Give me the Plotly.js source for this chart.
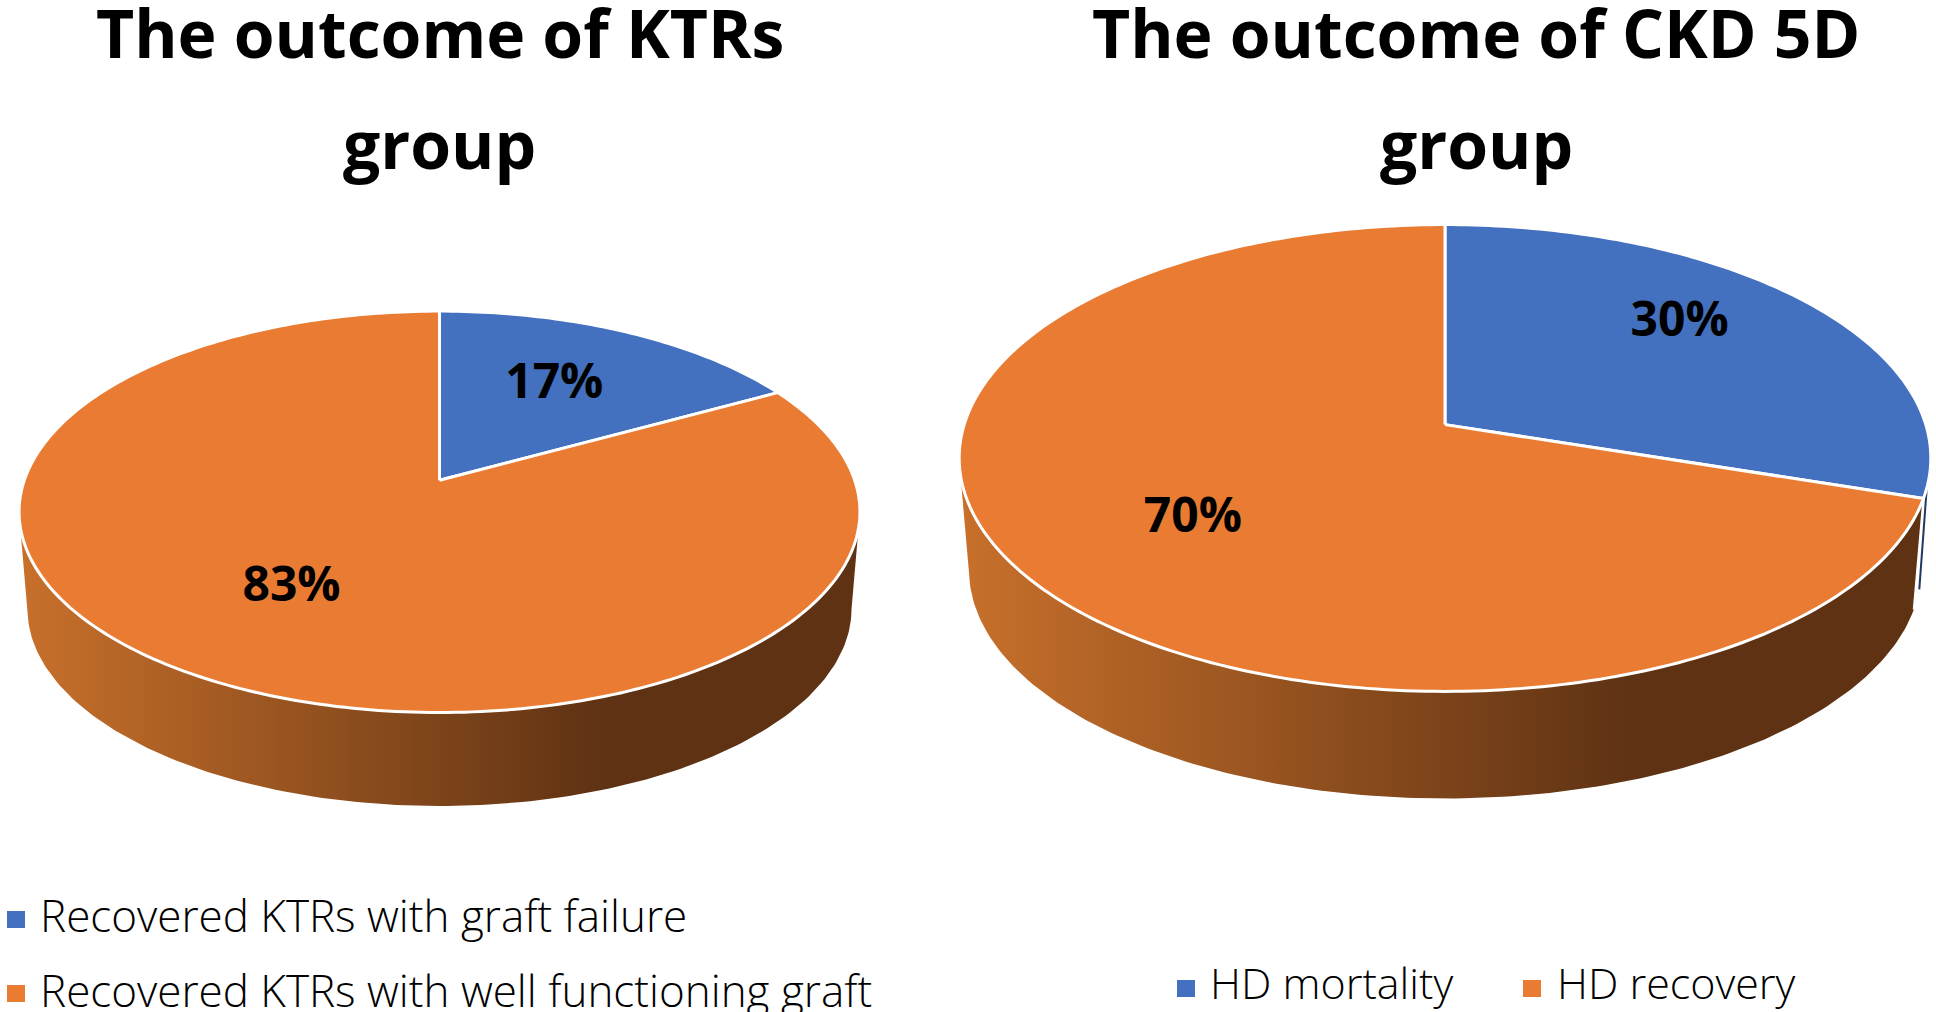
<!DOCTYPE html>
<html>
<head>
<meta charset="utf-8">
<script src="https://cdn.plot.ly/plotly-3.0.1.min.js"></script>
<style>html,body{margin:0;padding:0;background:#fff;overflow:hidden}</style>
</head>
<body>
<div id="chart" style="width:1936px;height:1012px"></div>
<script>
// ---- data ----
const ktrLabels = ["Recovered KTRs with graft failure", "Recovered KTRs with well functioning graft"];
const ktrValues = [17, 83];
const ckdLabels = ["HD mortality", "HD recovery"];
const ckdValues = [30, 70];
const ktrTitle = ["The outcome of KTRs", "group"];
const ckdTitle = ["The outcome of CKD 5D", "group"];

// ---- styles / layout ----
const W = 1936, H = 1012;
const FONT = '"Open Sans","Noto Sans",sans-serif';
const BLUE = "#4371BF", ORANGE = "#E97C32", DARKBLUE = "#1F3864";
const WALL = [[0, "#C8702B"], [0.7, "#5E3213"], [1, "#5E3213"]];

// geometry of the tilted discs, in page pixels
const pies = [
  {values: ktrValues, ax: "", cx: 439.5, cy: 511.8, rx: 420.4, ry: 200.7, k: 0.157,
   cx2: 439.5, cy2: 609, rx2: 412, ry2: 197, labelX: [0.273, -0.352], labelY: [0.625, -0.384]},
  {values: ckdValues, ax: "2", cx: 1445, cy: 458, rx: 485.8, ry: 233.4, k: 0.143,
   cx2: 1445, cy2: 570, rx2: 476, ry2: 228.5, labelX: [0.483, -0.519], labelY: [0.572, -0.264],
   sliver: [105.5, 103]}
];

// value-angle -> position on a disc rim, through the disc's perspective
function rim(p, deg, lower) {
  const t = deg * Math.PI / 180, x = Math.sin(t), y = Math.cos(t);
  const d = 1 + p.k * y;
  const ux = x * Math.sqrt(1 - p.k * p.k) / d, uy = (y + p.k) / d;
  if (!lower) return [ux, uy];
  return [(p.cx2 - p.cx + p.rx2 * ux) / p.rx, (p.cy - p.cy2 + p.ry2 * uy) / p.ry];
}
function arc(p, a0, a1, lower) {
  const out = [], n = Math.max(2, Math.ceil(Math.abs(a1 - a0)));
  for (let i = 0; i <= n; i++) out.push(rim(p, a0 + (a1 - a0) * i / n, lower));
  return out;
}
// the front part of a rim only: the half of the ellipse that faces the viewer
function frontArc(p, a0, a1, lower) {
  const yMid = lower ? (p.cy - p.cy2) / p.ry : 0;
  return arc(p, a0, a1, lower).filter(q => q[1] <= yMid);
}

const traces = [], layout = {
  width: W, height: H, margin: {l: 0, r: 0, t: 0, b: 0},
  paper_bgcolor: "#fff", plot_bgcolor: "rgba(0,0,0,0)", showlegend: false,
  hovermode: false, annotations: [], shapes: []
};

pies.forEach(p => {
  const xa = "x" + p.ax, ya = "y" + p.ax;
  const bottomPx = p.cy2 + p.ry2 + 1;
  const pad = 0.008;
  const x0 = -1 - pad, x1 = 1 + pad, yTop = 1 + pad, yBot = (p.cy - bottomPx) / p.ry - pad;
  layout["xaxis" + p.ax] = {visible: false, fixedrange: true, range: [x0, x1], anchor: ya,
    domain: [(p.cx + x0 * p.rx) / W, Math.min(1, (p.cx + x1 * p.rx) / W)]};
  layout["yaxis" + p.ax] = {visible: false, fixedrange: true, range: [yBot, yTop], anchor: xa,
    domain: [1 - (p.cy - yBot * p.ry) / H, 1 - (p.cy - yTop * p.ry) / H]};

  const total = p.values.reduce((a, b) => a + b, 0);
  const a1 = 360 * p.values[0] / total;
  const base = {type: "scatter", mode: "lines", xaxis: xa, yaxis: ya, hoverinfo: "skip"};

  // side wall of the large slice
  const wall = frontArc(p, a1, 360, false).concat(frontArc(p, 360, a1, true));
  if (p.sliver) {
    const s = [rim(p, p.sliver[0], false), rim(p, p.sliver[1], true)];
    traces.push({...base, x: s.map(q => q[0]), y: s.map(q => q[1]), line: {color: DARKBLUE, width: 2}});
  }
  traces.push({...base, x: wall.map(q => q[0]), y: wall.map(q => q[1]), fill: "toself",
    line: {width: 0, color: "rgba(0,0,0,0)"}, fillgradient: {type: "horizontal", colorscale: WALL}});
  if (p.sliver) {
    const e = [rim(p, a1, false), rim(p, a1, true)];
    traces.push({...base, x: e.map(q => q[0]), y: e.map(q => q[1]), line: {color: "#fff", width: 2}});
  }

  // top faces
  const centre = [0, p.k];
  [[0, a1, BLUE], [a1, 360, ORANGE]].forEach(s => {
    const pts = [centre].concat(arc(p, s[0], s[1], false), [centre]);
    traces.push({...base, x: pts.map(q => q[0]), y: pts.map(q => q[1]), fill: "toself",
      fillcolor: s[2], line: {color: "#fff", width: 3, simplify: false}});
  });

  // data labels
  traces.push({type: "scatter", mode: "text", xaxis: xa, yaxis: ya, hoverinfo: "skip",
    x: p.labelX, y: p.labelY, text: p.values.map(v => v + "%"), textposition: "middle center",
    textfont: {family: FONT, size: 48, color: "#000", weight: 700}});
});

// titles
function addText(text, px, py, size, weight, anchor) {
  layout.annotations.push({text, xref: "paper", yref: "paper", x: px / W, y: 1 - py / H,
    xanchor: anchor, yanchor: "middle", showarrow: false, borderpad: 0,
    font: {family: FONT, size, weight, color: "#000"}});
}
ktrTitle.forEach((t, i) => addText(t, 439.5, i ? 143 : 32, 66, 700, "center"));
ckdTitle.forEach((t, i) => addText(t, 1476, i ? 143 : 32, 66, 700, "center"));

// legends
function addKey(color, label, sx, sy, tx, ty, size) {
  layout.shapes.push({type: "rect", xref: "paper", yref: "paper", line: {width: 0}, fillcolor: color,
    x0: sx / W, x1: (sx + 18) / W, y0: 1 - sy / H, y1: 1 - (sy + 17) / H});
  addText(label, tx, ty, size, 300, "left");
}
addKey(BLUE, ktrLabels[0], 7, 911, 39, 915, 44);
addKey(ORANGE, ktrLabels[1], 7, 985, 39, 990, 44);
addKey(BLUE, ckdLabels[0], 1177, 980, 1209, 982.5, 43);
addKey(ORANGE, ckdLabels[1], 1523, 980, 1556, 982.5, 43);

Plotly.newPlot("chart", traces, layout, {displayModeBar: false, staticPlot: true});
</script>
</body>
</html>
